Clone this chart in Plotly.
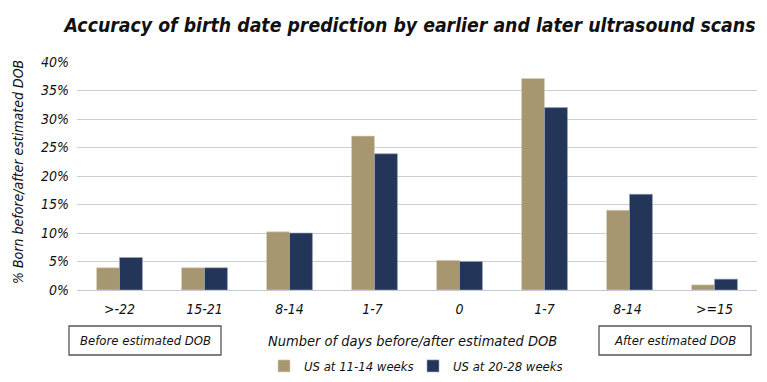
import plotly.graph_objects as go

categories = [">-22", "15-21", "8-14", "1-7 ", "0", "1-7", "8-14 ", ">=15"]
early_scan = [3.9, 3.9, 10.2, 27.0, 5.2, 37.1, 14.0, 0.9]
late_scan = [5.7, 3.9, 10.0, 23.9, 5.0, 32.0, 16.8, 1.9]
y_ticks = [0, 5, 10, 15, 20, 25, 30, 35, 40]
y_tick_labels = [f"{v}%" for v in y_ticks]

FONT = "DejaVu Sans Condensed, Roboto, sans-serif"
TAN = "#A69770"
NAVY = "#23365A"

# page body has an 8px margin, so the figure is offset by 8px in the window
OFF = 8
W, H = 767 - OFF, 382 - OFF
L, T = 77 - OFF, 62 - OFF
R = W - (757 - OFF)
B = H - (290 - OFF)
pw, ph = W - L - R, H - T - B

def px(x):
    return (x - OFF - L) / pw

def py(y):
    return (H - B - (y - OFF)) / ph

def f(size, weight="normal"):
    return dict(size=size, family=FONT, color="#111111", style="italic", weight=weight)

fig = go.Figure()
fig.add_bar(x=categories, y=early_scan, name="US at 11-14 weeks",
            marker=dict(color=TAN, line=dict(color="#D9D2BE", width=0.6)))
fig.add_bar(x=categories, y=late_scan, name="US at 20-28 weeks",
            marker=dict(color=NAVY, line=dict(color="#9AA4B8", width=0.6)))

fig.update_layout(
    width=W, height=H,
    margin=dict(l=L, r=R, t=T, b=B, autoexpand=False),
    paper_bgcolor="white", plot_bgcolor="white",
    barmode="group", bargap=0.46, bargroupgap=0,
    font=dict(family=FONT, color="#111111"),
    title=dict(text="Accuracy of birth date prediction by earlier and later ultrasound scans",
               x=px(410), xanchor="center", xref="paper", y=1 - (25 - OFF) / H, yanchor="middle",
               font=f(19.3, "bold")),
    showlegend=True,
    legend=dict(orientation="h", x=px(413), xanchor="center", y=py(366), yanchor="middle",
                font=f(13), itemwidth=30, entrywidth=104, entrywidthmode="pixels",
                traceorder="normal", bgcolor="rgba(0,0,0,0)"),
    xaxis=dict(tickfont=f(14), showline=True, linecolor="#C3C8D2", automargin=False,
               linewidth=1, ticks="", showgrid=False, ticklabelstandoff=6),
    yaxis=dict(range=[0, 40], tickvals=y_ticks, ticktext=y_tick_labels, automargin=False,
               tickfont=f(14), gridcolor="#C8CDD6", gridwidth=1,
               zeroline=False, ticks="", ticklen=0, ticklabelstandoff=7),
)

fig.add_annotation(xref="paper", yref="paper", x=px(18), y=py(172),
                   xanchor="center", yanchor="middle", textangle=-90,
                   text="% Born before/after estimated DOB", showarrow=False, font=f(14))

# boxes
for (x0, x1, label) in [(69, 221, "Before estimated DOB"), (599, 751, "After estimated DOB")]:
    fig.add_shape(type="rect", xref="paper", yref="paper",
                  x0=px(x0), x1=px(x1), y0=py(355), y1=py(326),
                  line=dict(color="#555555", width=1.3))
    fig.add_annotation(xref="paper", yref="paper", x=px((x0 + x1) / 2), y=py(340.5),
                       xanchor="center", yanchor="middle",
                       text=label, showarrow=False, font=f(13))

fig.add_annotation(xref="paper", yref="paper", x=px(412), y=py(340.5),
                   xanchor="center", yanchor="middle",
                   text="Number of days before/after estimated DOB", showarrow=False,
                   font=f(14.5))

fig.write_html("out.html")
